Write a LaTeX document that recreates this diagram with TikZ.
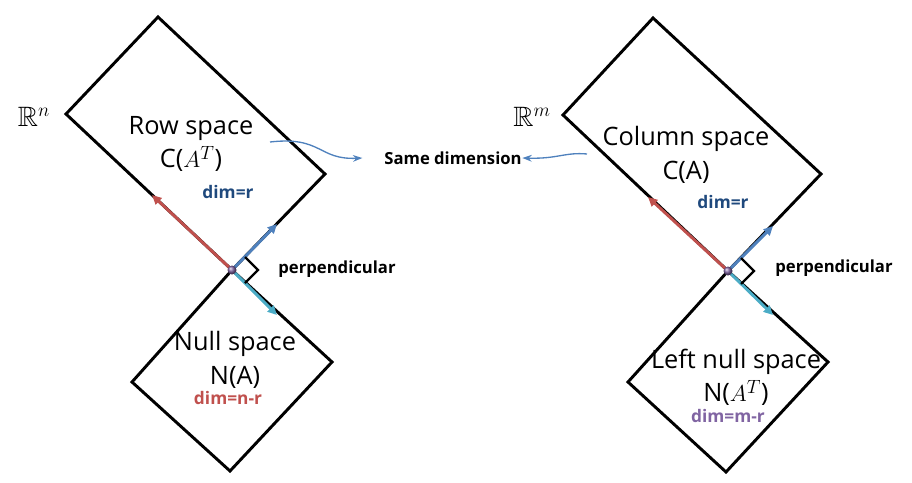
\documentclass[tikz,border=0pt]{standalone}
\usepackage{amsmath,amssymb}
\usepackage{fontspec}
\setmainfont{Open Sans}
\usetikzlibrary{arrows.meta,calc}
\definecolor{vecred}{HTML}{C0504D}
\definecolor{vecblue}{HTML}{4F81BD}
\definecolor{veccyan}{HTML}{4BACC6}
\definecolor{vecpurple}{HTML}{8064A2}
\definecolor{dimblue}{HTML}{1F497D}
\begin{document}
\begin{tikzpicture}[x=0.75pt,y=-0.75pt,
  box/.style={draw=black,line width=2.2pt},
  vec/.style={line width=2.2pt,-{Triangle[length=7pt,width=6.5pt]}},
  link/.style={draw=vecblue,line width=1pt,-{Stealth[length=7pt,width=5pt]}},
  spacelbl/.style={font=\fontsize{19}{25}\selectfont,align=center},
  dimlbl/.style={font=\bfseries\fontsize{13}{15}\selectfont},
  note/.style={font=\bfseries\fontsize{12.5}{14}\selectfont},
  rlbl/.style={font=\fontsize{21}{24}\selectfont}]
  \useasboundingbox (0,0) rectangle (912,482);
  % left: R^n
  \coordinate (lo) at (232,270);
  \draw[box] (158,17) -- (66,114) -- (lo) -- (325,174) -- cycle;
  \draw[box] (lo) -- (332,362) -- (230,471) -- (132,382) -- cycle;
  \coordinate (lred) at (152,195);
  \coordinate (lblue) at (277,224);
  \coordinate (lcyan) at (277,315);
  \draw[vec,vecred] (lo) -- (lred);
  \draw[vec,vecblue] (lo) -- (lblue);
  \draw[vec,veccyan] (lo) -- (lcyan);
  \draw[line width=1.8pt] ($(lo)+(13,-13)$) -- ($(lo)+(26,0)$) -- ($(lo)+(13,13)$);
  \shade[ball color=vecpurple] (lo) circle (4.5);
  \node[rlbl] (rn) at (34,117) {$\mathbb{R}^n$};
  \node[spacelbl] (row) at (191,144) {Row space\\C($A^T$)};
  \node[dimlbl,dimblue] (rowdim) at (228,192) {dim=r};
  \node[spacelbl] (null) at (235,360) {Null space\\N(A)};
  \node[dimlbl,vecred] (nulldim) at (228,398) {dim=n-r};
  \node[note] (lperp) at (337,269) {perpendicular};
  % right: R^m
  \coordinate (ro) at (728,271);
  \draw[box] (653,18) -- (563,115) -- (ro) -- (821,174) -- cycle;
  \draw[box] (ro) -- (828,362) -- (726,472) -- (628,382) -- cycle;
  \coordinate (rred) at (648,197);
  \coordinate (rblue) at (773,226);
  \coordinate (rcyan) at (773,315);
  \draw[vec,vecred] (ro) -- (rred);
  \draw[vec,vecblue] (ro) -- (rblue);
  \draw[vec,veccyan] (ro) -- (rcyan);
  \draw[line width=1.8pt] ($(ro)+(13,-13)$) -- ($(ro)+(26,0)$) -- ($(ro)+(13,13)$);
  \shade[ball color=vecpurple] (ro) circle (4.5);
  \node[rlbl] (rm) at (532,117) {$\mathbb{R}^m$};
  \node[spacelbl] (col) at (686,155) {Column space\\C(A)};
  \node[dimlbl,dimblue] (coldim) at (723,202) {dim=r};
  \node[spacelbl] (lnull) at (736,377) {Left null space\\N($A^T$)};
  \node[dimlbl,vecpurple] (lnulldim) at (728,416) {dim=m-r};
  \node[note] (rperp) at (834,268) {perpendicular};
  % same dimension
  \node[note] (same) at (453,158) {Same dimension};
  \coordinate (rowout) at (270,142);
  \coordinate (colout) at (587,154);
  \draw[link] (rowout) .. controls (322,136) and (318,160) .. ([xshift=-13pt]same.west);
  \draw[link] (colout) .. controls (565,152) and (558,159) .. ([xshift=-3pt]same.east);
\end{tikzpicture}
\end{document}
